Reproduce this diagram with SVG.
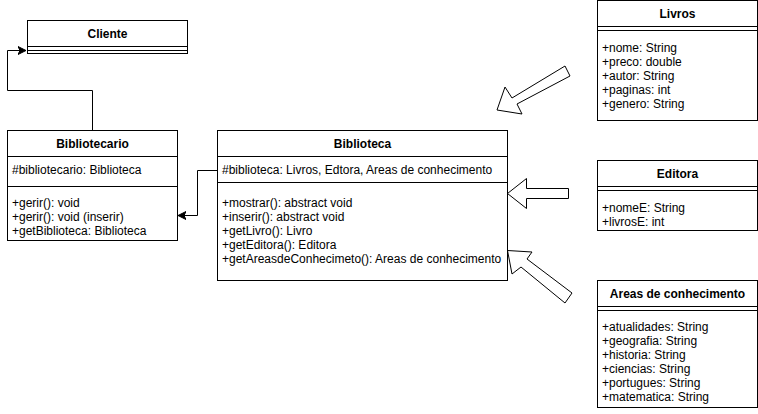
<svg xmlns="http://www.w3.org/2000/svg" width="758" height="414" viewBox="0 0 758 414">
<defs>
<style>
.box{fill:#fff;stroke:#000;stroke-width:1}
.ln{fill:none;stroke:#000;stroke-width:1}
.t{font-family:"Liberation Sans",Arial,sans-serif;font-size:12px;fill:#000}
.h{font-family:"Liberation Sans",Arial,sans-serif;font-size:12px;font-weight:bold;fill:#000;text-anchor:middle}
.blk{fill:#fff;stroke:#000;stroke-width:1;stroke-linejoin:miter}
</style>
<marker id="arr" markerWidth="10" markerHeight="10" refX="8" refY="5" orient="auto" markerUnits="userSpaceOnUse">
<path d="M0,1 L8,5 L0,9 L2,5 Z" fill="#000" stroke="#000" stroke-width="1"/>
</marker>
</defs>
<rect width="758" height="414" fill="#fff"/>

<g id="connectors">
<path class="ln" d="M92.5,130 V90.5 H7.5 V50.5 H26" marker-end="url(#arr)"/>
<path class="ln" d="M217,170.5 H197.5 V215.5 H178" marker-end="url(#arr)"/>
<polygon class="blk" points="497,110 505,87 512,98 565,66 570,76 517,104 522,114"/>
<polygon class="blk" points="507.5,193.5 526.5,178.5 526.5,188.5 568.5,188.5 568.5,198.5 526.5,198.5 526.5,208.5"/>
<polygon class="blk" points="507.5,250.5 532,252 527,259 572,293 565,303 521,267 512,274"/>
</g>

<g id="cliente">
<rect class="box" x="27.5" y="20.5" width="160" height="33"/>
<path class="ln" d="M27.5,46.5 H187.5 M27.5,50.5 H187.5"/>
<text class="h" x="107.5" y="37.5">Cliente</text>
</g>

<g id="bibliotecario">
<rect class="box" x="7.5" y="130.5" width="170" height="110"/>
<path class="ln" d="M7.5,156.5 H177.5 M7.5,186.5 H177.5"/>
<text class="h" x="92.5" y="147.5">Bibliotecario</text>
<text class="t" x="12" y="174">#bibliotecario: Biblioteca</text>
<text class="t" x="12" y="207">+gerir(): void</text>
<text class="t" x="12" y="221">+gerir(): void (inserir)</text>
<text class="t" x="12" y="235">+getBiblioteca: Biblioteca</text>
</g>

<g id="biblioteca">
<rect class="box" x="217.5" y="130.5" width="290" height="150"/>
<path class="ln" d="M217.5,156.5 H507.5 M217.5,182.5 H507.5"/>
<text class="h" x="362.5" y="147.5">Biblioteca</text>
<text class="t" x="222" y="174">#biblioteca: Livros, Edtora, Areas de conhecimento</text>
<text class="t" x="222" y="207">+mostrar(): abstract void</text>
<text class="t" x="222" y="221">+inserir(): abstract void</text>
<text class="t" x="222" y="235">+getLivro(): Livro</text>
<text class="t" x="222" y="249">+getEditora(): Editora</text>
<text class="t" x="222" y="263">+getAreasdeConhecimeto(): Areas de conhecimento</text>
</g>

<g id="livros">
<rect class="box" x="597.5" y="0.5" width="160" height="120"/>
<path class="ln" d="M597.5,26.5 H757.5 M597.5,30.5 H757.5"/>
<text class="h" x="677.5" y="18">Livros</text>
<text class="t" x="602" y="52">+nome: String</text>
<text class="t" x="602" y="66">+preco: double</text>
<text class="t" x="602" y="80">+autor: String</text>
<text class="t" x="602" y="94">+paginas: int</text>
<text class="t" x="602" y="108">+genero: String</text>
</g>

<g id="editora">
<rect class="box" x="597.5" y="160.5" width="160" height="70"/>
<path class="ln" d="M597.5,186.5 H757.5 M597.5,190.5 H757.5"/>
<text class="h" x="677.5" y="178">Editora</text>
<text class="t" x="602" y="212">+nomeE: String</text>
<text class="t" x="602" y="226">+livrosE: int</text>
</g>

<g id="areas">
<rect class="box" x="597.5" y="280.5" width="160" height="127"/>
<path class="ln" d="M597.5,306.5 H757.5 M597.5,310.5 H757.5"/>
<text class="h" x="677.5" y="298">Areas de conhecimento</text>
<text class="t" x="602" y="331">+atualidades: String</text>
<text class="t" x="602" y="345">+geografia: String</text>
<text class="t" x="602" y="359">+historia: String</text>
<text class="t" x="602" y="373">+ciencias: String</text>
<text class="t" x="602" y="387">+portugues: String</text>
<text class="t" x="602" y="401">+matematica: String</text>
</g>
</svg>
